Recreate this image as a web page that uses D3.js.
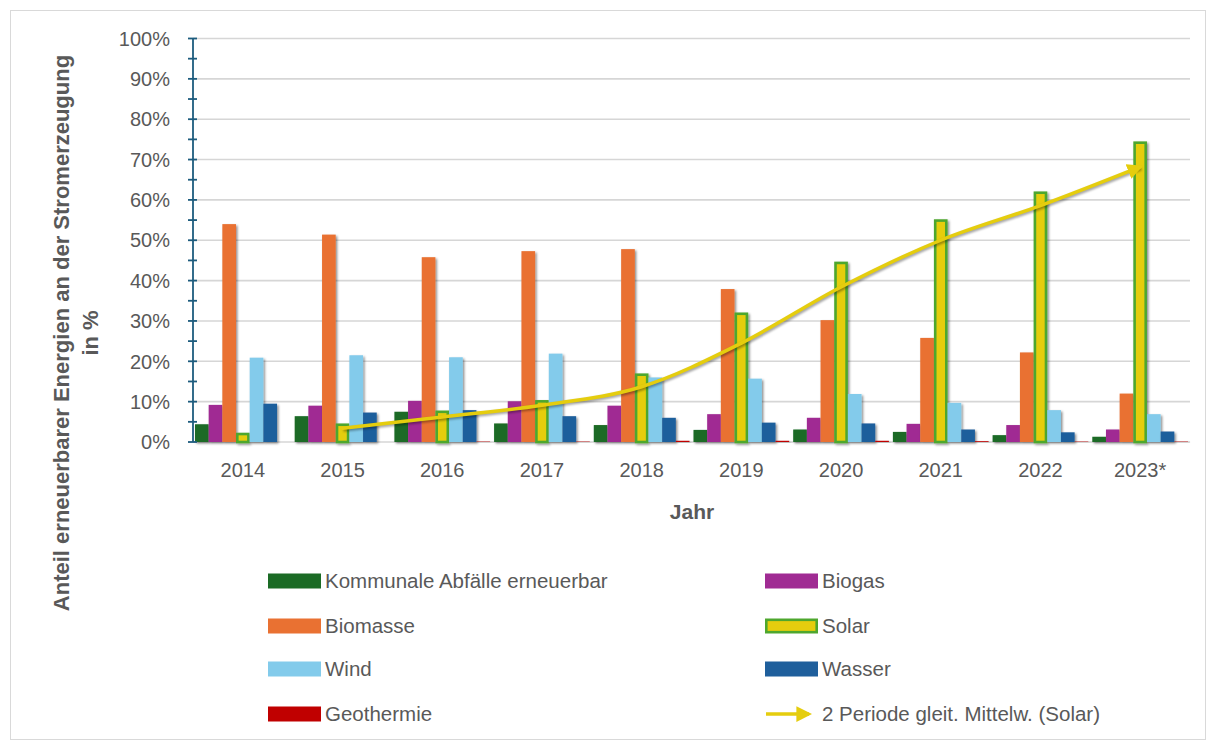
<!DOCTYPE html>
<html>
<head>
<meta charset="utf-8">
<script src="https://cdn.jsdelivr.net/npm/d3@7"></script>
<style>
  body { margin: 0; background: #fff; }
  text { font-family: "Liberation Sans", Arial, sans-serif; fill: #595959; }
</style>
</head>
<body>
<svg id="chart" width="1215" height="747"></svg>
<script>
// years on the x axis
var years = ["2014", "2015", "2016", "2017", "2018", "2019", "2020", "2021", "2022", "2023*"];

// shares in %
var kommunale = [4.4, 6.4, 7.5, 4.6, 4.2, 3.0, 3.1, 2.5, 1.7, 1.3];
var biogas    = [9.2, 9.0, 10.2, 10.1, 9.0, 6.9, 6.0, 4.5, 4.2, 3.1];
var biomasse  = [54.0, 51.4, 45.8, 47.3, 47.8, 37.9, 30.2, 25.8, 22.2, 12.0];
var solar     = [2.3, 4.6, 7.8, 10.4, 17.0, 32.1, 44.7, 55.2, 62.1, 74.5];
var wind      = [20.9, 21.5, 21.0, 21.9, 16.0, 15.7, 11.9, 9.7, 7.9, 6.9];
var wasser    = [9.5, 7.3, 7.9, 6.4, 6.0, 4.8, 4.6, 3.1, 2.4, 2.6];
var geothermie = [0, 0, 0.1, 0.1, 0.3, 0.3, 0.3, 0.2, 0.1, 0.1];

// moving average trend line (Solar), starts at 2015
var trendYears = ["2015", "2016", "2017", "2018", "2019", "2020", "2021", "2022", "2023*"];
var trendVals  = [3.4, 6.2, 9.1, 13.7, 24.5, 38.4, 50.0, 58.6, 68.2];

var yTicks = [0, 10, 20, 30, 40, 50, 60, 70, 80, 90, 100];

var seriesNames = ["Kommunale Abfälle erneuerbar", "Biogas", "Biomasse", "Solar", "Wind", "Wasser", "Geothermie"];
var seriesData = [kommunale, biogas, biomasse, solar, wind, wasser, geothermie];
var colors = ["#1b6b25", "#a02b93", "#e97132", "#e5cd0e", "#83cbeb", "#1f5f9c", "#c00000"];
var solarStroke = "#4ea72e";
var lineColor = "#e5cd0e";

var svg = d3.select("#chart");

// frame
svg.append("rect")
    .attr("x", 10.5).attr("y", 10.5)
    .attr("width", 1195).attr("height", 729)
    .attr("fill", "white")
    .attr("stroke", "#d9d9d9");

var defs = svg.append("defs");
var f = defs.append("filter").attr("id", "shadow")
    .attr("x", "-30%").attr("y", "-30%").attr("width", "160%").attr("height", "160%");
f.append("feDropShadow")
    .attr("dx", 1.5).attr("dy", 1.5).attr("stdDeviation", 1.2)
    .attr("flood-color", "#000").attr("flood-opacity", 0.45);

defs.append("marker")
    .attr("id", "arrow")
    .attr("viewBox", "0 0 10 10")
    .attr("refX", 8).attr("refY", 5)
    .attr("markerWidth", 4.5).attr("markerHeight", 4.5)
    .attr("markerUnits", "strokeWidth")
    .attr("orient", "auto")
  .append("path")
    .attr("d", "M0,0 L10,5 L0,10 z")
    .attr("fill", lineColor);

// plot box (don't call these top/left, window.top is taken)
var pLeft = 193, pRight = 1190, pTop = 38.5, pBottom = 442;

var x = d3.scaleBand()
    .domain(years)
    .range([pLeft, pRight])
    .paddingInner(0.04)
    .paddingOuter(0.02);

var xs = d3.scaleBand()
    .domain(d3.range(seriesNames.length))
    .range([0, x.bandwidth()]);

var y = d3.scaleLinear()
    .domain([0, 100])
    .range([pBottom, pTop]);

//gridlines
svg.append("g")
    .selectAll("line")
    .data(yTicks)
    .enter().append("line")
    .attr("x1", pLeft).attr("x2", pRight)
    .attr("y1", function(d) { return y(d); })
    .attr("y2", function(d) { return y(d); })
    .attr("stroke", "#d6d6d6")
    .attr("stroke-width", 1.6);

// y tick labels
svg.append("g")
    .selectAll("text")
    .data(yTicks)
    .enter().append("text")
    .attr("x", 170)
    .attr("y", function(d) { return y(d); })
    .attr("dy", "0.36em")
    .attr("text-anchor", "end")
    .style("font-size", "20px")
    .text(function(d) { return d + "%"; });

// bars
var groups = svg.append("g")
    .selectAll("g")
    .data(seriesData)
    .enter().append("g")
    .attr("filter", "url(#shadow)");

groups.each(function(vals, si) {
  var inset = si == 3 ? 1.3 : 0;
  d3.select(this).selectAll("rect")
      .data(vals)
      .enter().append("rect")
      .attr("x", function(d, i) { return x(years[i]) + xs(si) + inset; })
      .attr("width", xs.bandwidth() - 2 * inset)
      .attr("y", function(d) { return y(d) + inset; })
      .attr("height", function(d) { return Math.max(0, pBottom - y(d) - inset); })
      .attr("fill", colors[si])
      .attr("stroke", si == 3 ? solarStroke : "none")
      .attr("stroke-width", si == 3 ? 2.6 : 0);
});

// y axis with crossing ticks
var ax = svg.append("g").attr("stroke", "#1d5c7e").attr("stroke-width", 1.8);
ax.append("line")
    .attr("x1", pLeft).attr("x2", pLeft)
    .attr("y1", y(100)).attr("y2", y(0));
ax.selectAll(".tk")
    .data(d3.range(0, 101, 5))
    .enter().append("line")
    .attr("class", "tk")
    .attr("x1", pLeft - 5).attr("x2", pLeft + 4)
    .attr("y1", function(d) { return y(d); })
    .attr("y2", function(d) { return y(d); });

// trend line
var line = d3.line()
    .x(function(d, i) { return x(trendYears[i]) + x.bandwidth() / 2; })
    .y(function(d) { return y(d); })
    .curve(d3.curveMonotoneX);

svg.append("path")
    .datum(trendVals)
    .attr("d", line)
    .attr("fill", "none")
    .attr("stroke", "#000")
    .attr("stroke-opacity", 0.35)
    .attr("stroke-width", 4)
    .attr("transform", "translate(1,1.5)")
    .style("filter", "blur(1px)");

svg.append("path")
    .datum(trendVals)
    .attr("d", line)
    .attr("fill", "none")
    .attr("stroke", lineColor)
    .attr("stroke-width", 3.5)
    .attr("stroke-linecap", "round")
    .attr("marker-end", "url(#arrow)");

// x labels
svg.append("g")
    .selectAll("text")
    .data(years)
    .enter().append("text")
    .attr("x", function(d) { return x(d) + x.bandwidth() / 2; })
    .attr("y", 477)
    .attr("text-anchor", "middle")
    .style("font-size", "20px")
    .text(function(d) { return d; });

svg.append("text")
    .attr("x", 692).attr("y", 519)
    .attr("text-anchor", "middle")
    .style("font-size", "21px")
    .style("font-weight", "bold")
    .text("Jahr");

// y title
var yt = svg.append("text")
    .attr("transform", "translate(69,333) rotate(-90)")
    .attr("text-anchor", "middle")
    .style("font-size", "22px")
    .style("font-weight", "bold");
yt.append("tspan").attr("x", 0).attr("dy", 0).text("Anteil erneuerbarer Energien an der Stromerzeugung");
yt.append("tspan").attr("x", 0).attr("dy", "1.3em").text("in %");

// legend
var legendX = [268, 765];
var legendY = [581, 626, 669, 714];
var legendItems = seriesNames.map(function(n, i) { return { name: n, idx: i }; });
legendItems.push({ name: "2 Periode gleit. Mittelw. (Solar)", idx: -1 });

var lg = svg.append("g")
    .selectAll("g")
    .data(legendItems)
    .enter().append("g")
    .attr("transform", function(d, i) {
      return "translate(" + legendX[i % 2] + "," + legendY[Math.floor(i / 2)] + ")";
    });

lg.each(function(d) {
  var g = d3.select(this);
  if (d.idx == -1) {
    g.append("line")
        .attr("x1", 1).attr("x2", 44)
        .attr("y1", 0).attr("y2", 0)
        .attr("stroke", lineColor)
        .attr("stroke-width", 3.5)
        .attr("marker-end", "url(#arrow)");
  } else if (d.idx == 3) {
    g.append("rect")
        .attr("x", 1.3).attr("y", -6.2)
        .attr("width", 50.4).attr("height", 12.4)
        .attr("fill", colors[3])
        .attr("stroke", solarStroke)
        .attr("stroke-width", 2.6);
  } else {
    g.append("rect")
        .attr("x", 0).attr("y", -7.5)
        .attr("width", 53).attr("height", 15)
        .attr("fill", colors[d.idx]);
  }
  g.append("text")
      .attr("x", 57).attr("y", 0)
      .attr("dy", "0.36em")
      .style("font-size", "20.5px")
      .text(d.name);
});
</script>
</body>
</html>
